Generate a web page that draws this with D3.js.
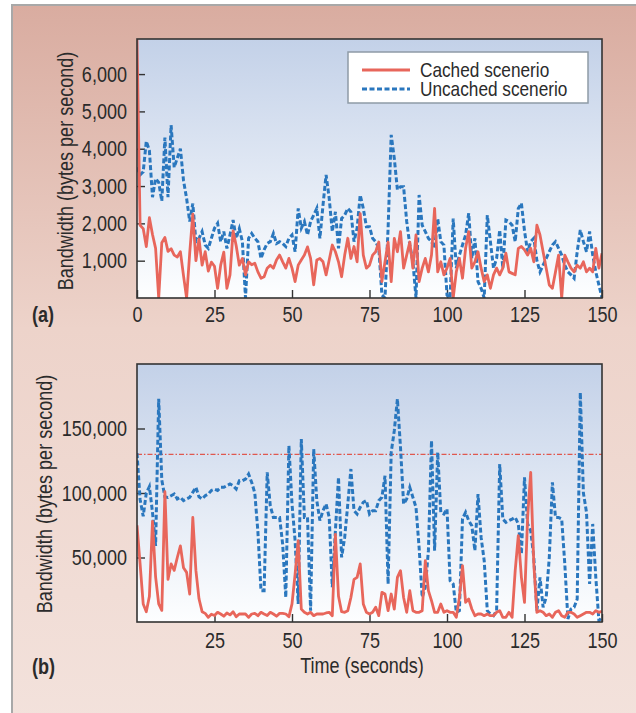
<!DOCTYPE html>
<html>
<head>
<meta charset="utf-8">
<script src="https://cdn.jsdelivr.net/npm/d3@7"></script>
<style>
body { margin: 0; background: #fff; }
text { font-family: "Liberation Sans", Arial, sans-serif; fill: #2b2b2b; }
</style>
</head>
<body>
<svg id="chart" width="636" height="713"></svg>
<script>
// sample times (one per second)
var seconds = d3.range(0, 151);

// panel (a): bandwidth in bytes per second
var cachedA = [6940,1950,1860,1380,2150,1700,1330,0,1480,1620,
  1250,1320,1150,1100,1240,600,0,1200,2250,1000,
  1580,880,1240,720,960,850,260,880,1230,260,
  620,1800,1400,880,1060,620,970,890,930,700,
  530,570,800,880,800,1020,1150,970,800,1060,
  800,440,880,1020,1150,1370,1060,350,1020,1060,
  970,620,1020,1420,1240,970,570,1150,1600,1060,
  1380,970,2260,1150,800,880,1150,1240,1500,440,
  970,1500,440,1600,1240,1780,800,1150,1500,800,
  1690,440,800,1060,700,1150,2400,700,970,620,
  800,1060,0,700,1060,530,1330,1780,800,970,
  1240,800,440,620,260,620,800,620,800,1200,
  700,660,620,1330,1380,1290,1150,1330,970,1950,
  1690,1240,800,350,260,700,1150,0,1150,970,
  800,700,880,800,970,700,800,700,1330,800,
  1200];
var uncachedA = [3500,3300,3380,4200,3950,2700,3200,3100,2600,4300,
  2700,4630,3500,3750,4000,3150,2670,2050,2530,1510,
  1600,1780,1420,1330,1600,1870,2000,1510,1780,1330,
  1690,2090,1600,1860,1510,0,1600,1730,1600,1510,
  1060,1290,1460,1510,1730,1460,1510,1460,1380,1600,
  1690,1240,2400,1870,2050,1690,2050,2220,2400,1600,
  2490,3300,2670,1780,2310,1330,2130,2220,2400,2310,
  1510,1870,2760,2400,1910,1910,1600,1510,1330,80,
  0,1870,4370,3740,2900,2980,2980,2050,1420,970,
  0,2760,1950,1780,1600,1510,1330,2130,1510,1420,
  80,0,2130,800,1150,1420,1690,2270,1060,1600,
  440,260,0,2220,1510,800,1060,1820,800,2090,
  2050,1950,1510,2400,2540,1800,1240,1510,1600,1000,
  700,880,1060,1240,1420,1510,1330,1150,880,700,
  620,530,1240,1820,1510,1240,1780,1150,700,350,
  0];

// panel (b)
var cachedB = [75000,45000,14000,8000,20000,78000,35000,14000,9000,101000,
  33000,45000,40000,50000,59000,42000,38500,21700,81000,40000,
  18000,8000,6700,3600,6000,5000,7500,6200,4500,7000,
  5500,8000,4000,6200,6200,6200,3600,6200,6700,4900,
  7500,6200,5000,7500,6200,4500,6700,6700,6200,4000,
  14000,37000,63000,10000,7500,6200,7500,4900,6200,6200,
  6200,7000,7500,4900,68000,20000,8000,7500,8800,19000,
  33000,34600,45000,14000,7500,6200,7500,11400,4900,23000,
  21700,8800,21700,10000,34600,39800,19000,7500,24300,8800,
  7500,7500,8800,47500,24300,16500,7500,7500,14000,7500,
  8800,7500,7500,3600,19100,43700,15200,17800,10100,4900,
  6200,6200,4900,6200,4900,4900,7500,8800,3600,3600,
  7500,3600,39800,66900,34600,15200,81100,116000,45000,7500,
  8800,7500,4900,6200,3600,7500,8800,4900,3600,7500,
  7500,6200,3600,4900,6200,7500,7500,6200,8800,7500,
  8300];
var uncachedB = [131000,95000,82000,100000,105000,85000,59000,173000,110000,97000,
  96600,97900,99200,95400,96600,94100,95400,96600,100500,104400,
  97000,95400,97900,99200,102000,103000,102000,104400,104400,105700,
  107000,105700,103100,109500,109500,110800,114700,108200,100000,70000,
  24300,24300,116000,90000,81100,81100,81100,60000,19100,136700,
  91500,63000,14000,141900,81100,81100,8800,134100,94100,78600,
  86300,91500,81100,26900,70800,112100,50100,65600,91500,118600,
  86300,83700,88900,92800,94100,83700,86300,86300,94100,96600,
  113400,29500,131500,148300,172900,135400,91500,95400,104400,96600,
  88900,57900,19100,26900,55300,140600,55300,131500,85000,83700,
  87600,32000,29500,7500,8800,80000,85000,78600,74700,55300,
  99200,65600,47500,8800,6200,4900,8800,122500,79800,77300,
  78600,79800,81100,76000,52700,112100,76000,70800,50100,8800,
  34600,11400,19100,50100,108200,81100,81100,79800,45000,2300,
  10100,11400,17800,178000,100000,85000,29500,76000,34600,1000,
  3600];
var thresholdB = 130000;

var yTicksA = [1000, 2000, 3000, 4000, 5000, 6000];
var xTicksA = [0, 25, 50, 75, 100, 125, 150];
var yTicksB = [50000, 100000, 150000];
var xTicksB = [25, 50, 75, 100, 125, 150];
var seriesNames = ["Cached scenerio", "Uncached scenerio"];

var red = "#e8665b", blue = "#2a77be";
var narrow = 0.82;   // no condensed face installed: squeeze Liberation Sans

var svg = d3.select("#chart");
var defs = svg.append("defs");

var bg = defs.append("linearGradient").attr("id", "bg")
    .attr("x1", 0).attr("y1", 0).attr("x2", 0).attr("y2", 1);
bg.append("stop").attr("offset", "0%").attr("stop-color", "#d9aca0");
bg.append("stop").attr("offset", "45%").attr("stop-color", "#edd3ca");
bg.append("stop").attr("offset", "100%").attr("stop-color", "#f3e2dc");

var pbg = defs.append("linearGradient").attr("id", "plotbg")
    .attr("x1", 0).attr("y1", 0).attr("x2", 0).attr("y2", 1);
pbg.append("stop").attr("offset", "0%").attr("stop-color", "#c3d1e8");
pbg.append("stop").attr("offset", "100%").attr("stop-color", "#fdfeff");

// outer panel
svg.append("rect")
    .attr("x", 12).attr("y", 5).attr("width", 640).attr("height", 720)
    .attr("fill", "url(#bg)")
    .attr("stroke", "#a8a8a8").attr("stroke-width", 2);

function drawPanel(p) {
  var x = d3.scaleLinear().domain([0, 150]).range([137, 602]);
  var y = d3.scaleLinear().domain([0, p.ymax]).range([p.bottom, p.top]);

  var g = svg.append("g");
  g.append("clipPath").attr("id", p.id + "clip")
    .append("rect").attr("x", 137).attr("y", p.top)
    .attr("width", 465).attr("height", p.bottom - p.top);

  g.append("rect")
      .attr("x", 137).attr("y", p.top)
      .attr("width", 465).attr("height", p.bottom - p.top)
      .attr("fill", "url(#plotbg)");

  var ya = g.append("g").attr("transform", "translate(137,0)")
      .call(d3.axisLeft(y).tickValues(p.yTicks).tickSize(-8).tickPadding(10)
        .tickFormat(d3.format(",")));
  var xa = g.append("g").attr("transform", "translate(0," + p.bottom + ")")
      .call(d3.axisBottom(x).tickValues(p.xTicks).tickSize(-8).tickPadding(p.xpad)
        .tickFormat(d3.format("d")));
  [ya, xa].forEach(function(a) {
    a.attr("font-family", null).attr("font-size", null);
    a.select(".domain").remove();
    a.selectAll(".tick line").attr("stroke", "#333").attr("stroke-width", 1.4);
    a.selectAll(".tick text").style("font-size", "22px").attr("fill", "#2b2b2b");
  });

  var plot = g.append("g").attr("clip-path", "url(#" + p.id + "clip)");

  if (p.threshold != null) {
    plot.append("line")
        .attr("x1", x(0)).attr("x2", x(150))
        .attr("y1", y(p.threshold)).attr("y2", y(p.threshold))
        .attr("stroke", "#e0584e").attr("stroke-width", 1.3)
        .attr("stroke-dasharray", "5,2,1.5,2");
  }

  var line = d3.line()
      .x(function(d, i) { return x(seconds[i]); })
      .y(function(d) { return y(d); });

  plot.append("path").datum(p.uncached)
      .attr("d", line).attr("fill", "none")
      .attr("stroke", blue).attr("stroke-width", 3)
      .attr("stroke-dasharray", "5,2.5");
  plot.append("path").datum(p.cached)
      .attr("d", line).attr("fill", "none")
      .attr("stroke", red).attr("stroke-width", 2.8)
      .attr("stroke-linejoin", "round");

  g.append("rect")
      .attr("x", 137).attr("y", p.top)
      .attr("width", 465).attr("height", p.bottom - p.top)
      .attr("fill", "none").attr("stroke", "#333").attr("stroke-width", 1.6);

  g.append("text")
      .attr("transform", "translate(" + p.titleX + "," + p.titleY + ") rotate(-90)")
      .attr("text-anchor", "middle")
      .style("font-size", "22px")
      .text("Bandwidth (bytes per second)");

  g.append("text")
      .attr("x", 32).attr("y", p.letterY)
      .style("font-size", "22px").style("font-weight", "bold")
      .text(p.letter);
  return g;
}

drawPanel({id: "a", top: 39, bottom: 298, ymax: 6940,
  cached: cachedA, uncached: uncachedA,
  yTicks: yTicksA, xTicks: xTicksA, xpad: 8,
  titleX: 73, titleY: 171, letter: "(a)", letterY: 322});

drawPanel({id: "b", top: 364, bottom: 622, ymax: 200000,
  cached: cachedB, uncached: uncachedB, threshold: thresholdB,
  yTicks: yTicksB, xTicks: xTicksB, xpad: 10,
  titleX: 52, titleY: 494, letter: "(b)", letterY: 674});

svg.append("text")
    .attr("x", 362).attr("y", 673)
    .attr("text-anchor", "middle")
    .style("font-size", "22px")
    .text("Time (seconds)");

// legend
var leg = svg.append("g");
leg.append("rect")
    .attr("x", 348).attr("y", 52).attr("width", 240).attr("height", 51)
    .attr("fill", "#fff").attr("stroke", "#8e9ba6").attr("stroke-width", 1.5);
seriesNames.forEach(function(name, i) {
  var yy = 70 + i * 19;
  leg.append("line")
      .attr("x1", 362).attr("x2", 410).attr("y1", yy).attr("y2", yy)
      .attr("stroke", i === 0 ? red : blue).attr("stroke-width", i === 0 ? 2.8 : 3)
      .attr("stroke-dasharray", i === 0 ? null : "5,2.5");
  leg.append("text")
      .attr("x", 420).attr("y", yy + 7)
      .style("font-size", "21px")
      .text(name);
});

// condensed look
svg.selectAll("text").each(function() {
  var w = this.getComputedTextLength();
  d3.select(this).attr("textLength", w * narrow).attr("lengthAdjust", "spacingAndGlyphs");
});
</script>
</body>
</html>
